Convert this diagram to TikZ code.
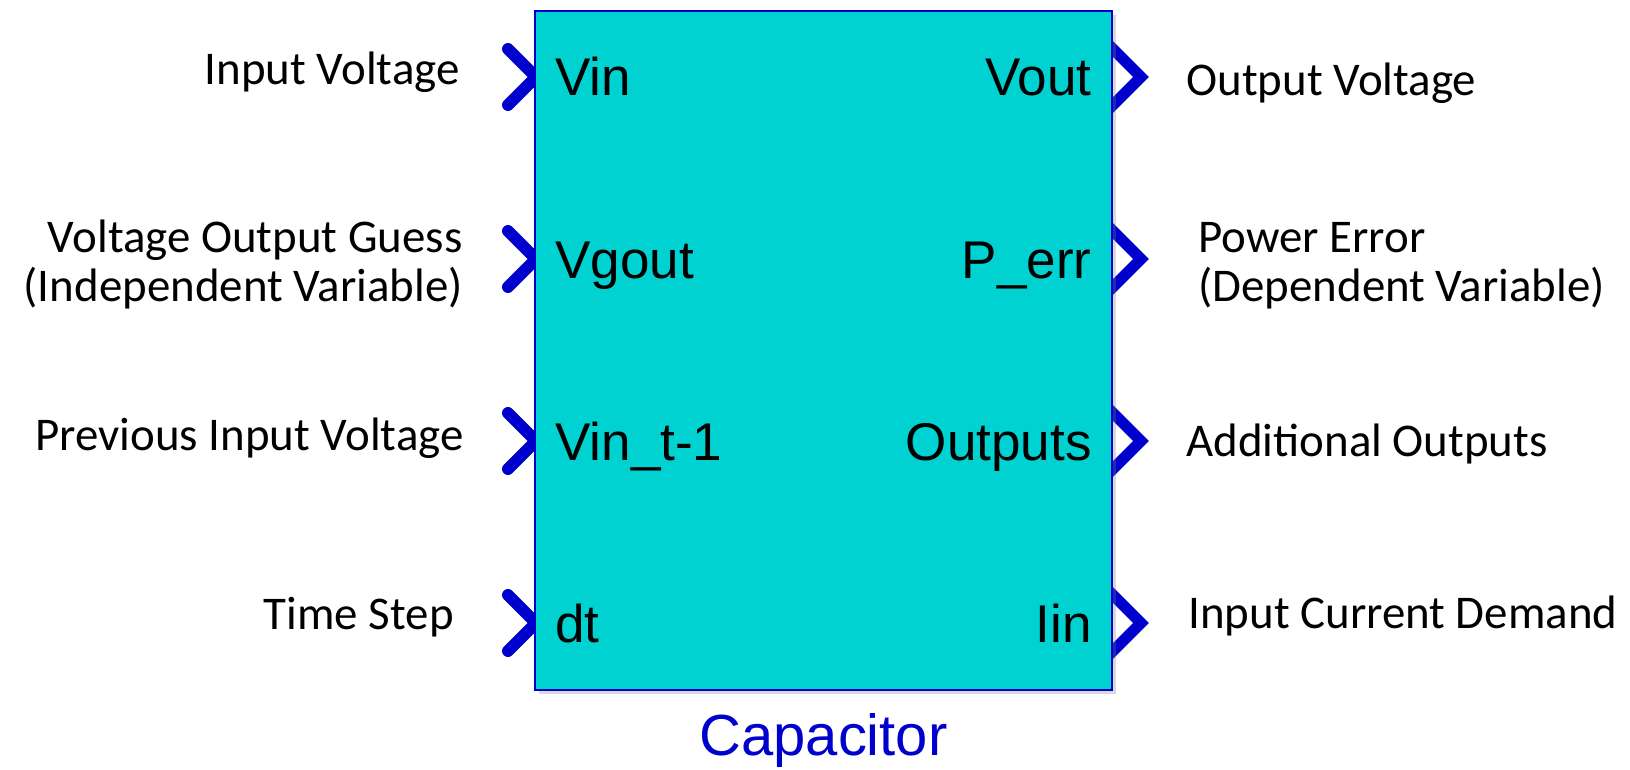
\documentclass[tikz,border=0pt]{standalone}
\usepackage{fontspec}
\setmainfont{Carlito}
\newfontfamily\blockfont{Liberation Sans}
\usetikzlibrary{shadows}
\definecolor{portblue}{RGB}{0,0,204}
\definecolor{blockcyan}{RGB}{0,209,209}

\begin{document}
\begin{tikzpicture}[x=.02cm,y=-.02cm,
  inport/.style={draw=portblue,line width=.24cm,line cap=round,line join=round},
  outport/.style={draw=portblue,line width=.22cm,line join=miter},
  block/.style={draw=portblue,fill=blockcyan,line width=.04cm,inner sep=0pt,
    drop shadow={shadow xshift=.08cm,shadow yshift=-.08cm,opacity=.3}},
  sig/.style={font=\fontsize{26.7pt}{27.6pt}\selectfont,inner sep=0pt},
  pname/.style={font=\blockfont\fontsize{30.2pt}{32pt}\selectfont,inner sep=0pt}]
\useasboundingbox (0,0) rectangle (1630,770);
\foreach \y in {77,259,441,623} {
  \draw[inport] (508,\y-28)--(536,\y)--(508,\y+28);
  \draw[outport] (1104,\y-37)--(1141,\y)--(1104,\y+37);}
\node[block,minimum width=11.54cm,minimum height=13.58cm] (cap) at (823.5,350.5) {};
\node[pname,anchor=base west] (vin) at (555,96) {Vin};
\node[pname,anchor=base west] (vgout) at (555,278) {Vgout};
\node[pname,anchor=base west] (vinold) at (555,460) {Vin\_t-1};
\node[pname,anchor=base west] (dt) at (555,642) {dt};
\node[pname,anchor=base east] (vout) at (1092,96) {Vout};
\node[pname,anchor=base east] (perr) at (1092,278) {P\_err};
\node[pname,anchor=base east] (outs) at (1092,460) {Outputs};
\node[pname,anchor=base east] (iin) at (1092,642) {Iin};
\node[sig,anchor=base east] (lvin) at (460,85) {Input Voltage};
\node[sig,anchor=base east,align=right] (lvgout) at (463,301) {Voltage Output Guess\\(Independent Variable)};
\node[sig,anchor=base east] (lvinold) at (464,450) {Previous Input Voltage};
\node[sig,anchor=base east] (ldt) at (454,629) {Time Step};
\node[sig,anchor=base west] (lvout) at (1186,96) {Output Voltage};
\node[sig,anchor=base west,align=left] (lperr) at (1198,301) {Power Error\\(Dependent Variable)};
\node[sig,anchor=base west] (louts) at (1186,456) {Additional Outputs};
\node[sig,anchor=base west] (liin) at (1188,628) {Input Current Demand};
\node[font=\blockfont\fontsize{33pt}{35pt}\selectfont,text=portblue,inner sep=0pt,anchor=base] (name) at (823.5,755) {Capacitor};
\end{tikzpicture}
\end{document}
